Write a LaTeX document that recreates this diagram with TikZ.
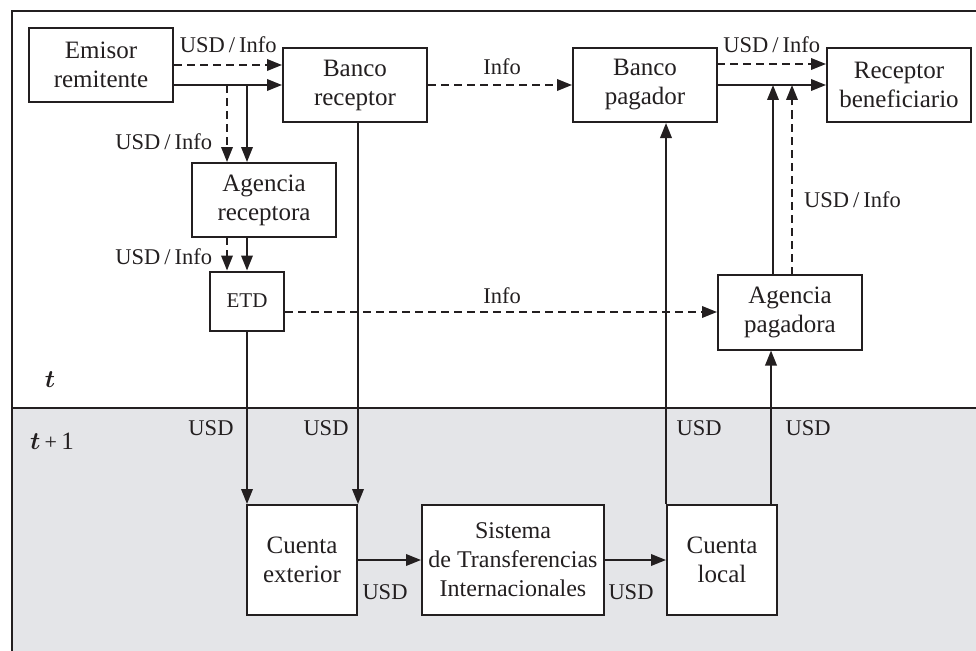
\documentclass[tikz,border=0pt]{standalone}
\usepackage{amsmath}
\usepackage{fontspec}
\setmainfont{Liberation Serif}
\usetikzlibrary{arrows.meta}
\definecolor{ink}{HTML}{231F20}
\definecolor{lowbg}{HTML}{E4E5E8}
\tikzset{
  box/.style={draw=ink, line width=2pt, fill=white, align=center, text=ink,
    font=\fontsize{25}{29}\selectfont, inner sep=0pt, minimum width=#1},
  box/.default=144pt,
  conn/.style={draw=ink, line width=2pt, -{Triangle[length=15pt,width=11.5pt]}},
  dconn/.style={conn, dash pattern=on 8pt off 5pt},
  lbl/.style={text=ink, font=\fontsize{22.5}{26}\selectfont, inner sep=0pt},
}
\newcommand{\usdinfo}{USD\hspace{4pt}/\hspace{4pt}Info}
\begin{document}
\begin{tikzpicture}[x=1pt,y=-1pt]
\useasboundingbox (0,0) rectangle (976,650);
\clip (0,0) rectangle (976,650);
% background and frame
\fill[lowbg] (12,408) rectangle (990,662);
\draw[ink, line width=2pt] (990,11) -- (12,11) -- (12,662);
\draw[ink, line width=2pt] (12,408) -- (990,408);
% nodes
\node[box, minimum height=74pt] (emisor) at (101,65) {Emisor\\remitente};
\node[box, minimum height=74pt] (brec) at (355,85) {Banco\\receptor};
\node[box, minimum height=74pt] (agrec) at (264,200) {Agencia\\receptora};
\node[box=74pt, minimum height=59pt, font=\fontsize{21}{24}\selectfont] (etd) at (247,301) {ETD};
\node[box, minimum height=74pt] (bpag) at (645,85) {Banco\\pagador};
\node[box, minimum height=74pt] (rec) at (899,85) {Receptor\\beneficiario};
\node[box, minimum height=75pt] (agpag) at (790,312) {Agencia\\pagadora};
\node[box=110pt, minimum height=110pt] (cext) at (302,560) {Cuenta\\exterior};
\node[box=182pt, minimum height=110pt, font=\fontsize{24}{29}\selectfont] (sist) at (513,560) {Sistema\\de Transferencias\\Internacionales};
\node[box=110pt, minimum height=110pt] (cloc) at (722,560) {Cuenta\\local};
% helper coordinates
\coordinate (ed) at (227,85);
\coordinate (es) at (247,85);
\coordinate (ad) at (227,237);
\coordinate (as) at (247,237);
\coordinate (bpd) at (717,64);
\coordinate (ps) at (773,274.5);
\coordinate (pd) at (792,274.5);
\coordinate (cl) at (771,505);
% connectors top
\draw[dconn] (emisor.east) -- (brec.west |- emisor.east);
\draw[conn] (emisor.east |- brec.west) -- (brec.west);
\draw[dconn] (ed) -- (ed |- agrec.north);
\draw[conn] (es) -- (es |- agrec.north);
\draw[dconn] (ad) -- (ad |- etd.north);
\draw[conn] (as) -- (as |- etd.north);
\draw[dconn] (brec.east) -- (bpag.west);
\draw[dconn] (bpd) -- (bpd -| rec.west);
\draw[conn] (bpag.east) -- (rec.west);
\draw[conn] (ps) -- (ps |- rec.west);
\draw[dconn] (pd) -- (pd |- rec.west);
\draw[dconn] (agpag.west -| etd.east) -- (agpag.west);
% connectors down / up
\draw[conn] (etd.south) -- (etd.south |- cext.north);
\draw[conn] (cext.north east |- brec.south) -- (cext.north east);
\draw[conn] (cext.east) -- (sist.west);
\draw[conn] (sist.east) -- (cloc.west);
\draw[conn] (cloc.north west) -- (cloc.north west |- bpag.south);
\draw[conn] (cl) -- (cl |- agpag.south);
% labels
\node[lbl] (l1) at (228.3,45) {\usdinfo};
\node[lbl] (l2) at (163.8,141.7) {\usdinfo};
\node[lbl] (l3) at (163.8,256.7) {\usdinfo};
\node[lbl] (l4) at (771.7,45) {\usdinfo};
\node[lbl] (l5) at (852.5,200) {\usdinfo};
\node[lbl] (i1) at (502,67) {Info};
\node[lbl] (i2) at (502,296) {Info};
\node[lbl] (u1) at (211,428) {USD};
\node[lbl] (u2) at (326,428) {USD};
\node[lbl] (u3) at (699,428) {USD};
\node[lbl] (u4) at (808,428) {USD};
\node[lbl] (u5) at (385,592) {USD};
\node[lbl] (u6) at (631,592) {USD};
\node[lbl, font=\fontsize{25}{28}\selectfont] (tt) at (50,380) {$\boldsymbol{t}$};
\node[lbl, font=\fontsize{25}{28}\selectfont] (tt1) at (52,441) {$\boldsymbol{t}$\,{\fontsize{22}{22}\selectfont+}\,1};
\end{tikzpicture}
\end{document}
